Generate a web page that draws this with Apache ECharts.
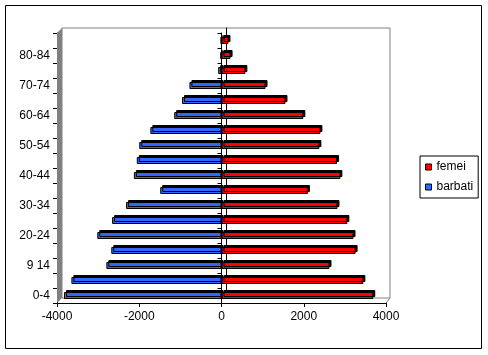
<!DOCTYPE html>
<html lang="ro">
<head>
    <meta charset="UTF-8">
    <title>Piramida varstelor</title>
    <script src="https://cdn.jsdelivr.net/npm/echarts@6/dist/echarts.min.js"></script>
    <style>
        body { margin: 0; background: #fff; }
        #main { width: 488px; height: 355px; }
    </style>
</head>
<body>
<div id="main"></div>
<script type="text/javascript">
    // grupe de varsta, de jos in sus
    var categories = ['0-4', '5-9', '9 14', '15-19', '20-24', '25-29', '30-34', '35-39', '40-44',
        '45-49', '50-54', '55-59', '60-64', '65-69', '70-74', '75-79', '80-84', '85+'];
    var femei = [3690, 3450, 2625, 3260, 3210, 3060, 2820, 2100, 2890,
        2810, 2380, 2405, 1990, 1555, 1070, 580, 220, 170];
    var barbati = [-3830, -3650, -2800, -2680, -3020, -2660, -2320, -1490, -2130,
        -2060, -2000, -1730, -1150, -960, -780, -80, -30, -20];
    var xMin = -4000, xMax = 4000, xStep = 2000;

    var font = 'Liberation Sans, Arial, sans-serif';
    var myChart = echarts.init(document.getElementById('main'));

    // umbra neagra in sus-dreapta, imita efectul 3D din Excel
    function barStyle(color) {
        return {
            color: color,
            borderColor: '#000',
            borderWidth: 1,
            shadowColor: '#000',
            shadowBlur: 0,
            shadowOffsetX: 2,
            shadowOffsetY: -2
        };
    }

    var option = {
        animation: false,
        backgroundColor: '#fff',
        grid: [
            // fata
            {left: 57, right: 102, top: 33, bottom: 52},
            // peretele din spate
            {left: 62, right: 98, top: 28, bottom: 57, show: true, borderColor: '#808080', borderWidth: 1},
            // axa din dreptul lui 0
            {left: 57, right: 102, top: 33, bottom: 52}
        ],
        legend: {
            orient: 'vertical',
            left: 420,
            top: 156,
            data: ['femei', 'barbati'],
            icon: 'rect',
            itemWidth: 6,
            itemHeight: 6,
            itemGap: 8,
            padding: [5, 5, 5, 5],
            borderColor: '#000',
            borderWidth: 1,
            itemStyle: {borderColor: '#000', borderWidth: 1, shadowOffsetX: 0, shadowOffsetY: 0},
            textStyle: {fontFamily: font, fontSize: 12, color: '#000'}
        },
        xAxis: [
            {
                gridIndex: 0, type: 'value', min: xMin, max: xMax, interval: xStep,
                axisLine: {show: true, onZero: false, lineStyle: {color: '#000'}},
                axisTick: {show: true, length: 4, lineStyle: {color: '#000'}},
                axisLabel: {
                    fontFamily: font, fontSize: 12, color: '#000', margin: 8,
                    formatter: function (v) { return String(v); }
                },
                splitLine: {show: false}
            },
            {gridIndex: 1, type: 'value', min: xMin, max: xMax, show: false},
            {gridIndex: 2, type: 'value', min: xMin, max: xMax, show: false}
        ],
        yAxis: [
            {
                gridIndex: 0, type: 'category', data: categories,
                axisLine: {show: true, onZero: false, lineStyle: {color: '#000'}},
                axisTick: {show: true, interval: 0, length: 4, lineStyle: {color: '#000'}},
                axisLabel: {interval: 1, fontFamily: font, fontSize: 12, color: '#000', margin: 7},
                splitLine: {show: false}
            },
            {
                gridIndex: 1, type: 'category', data: categories,
                axisLine: {show: true, onZero: true, lineStyle: {color: '#000'}},
                axisTick: {show: false},
                axisLabel: {show: false},
                splitLine: {show: false}
            },
            {
                gridIndex: 2, type: 'category', data: categories,
                axisLine: {show: true, onZero: true, lineStyle: {color: '#000'}},
                axisTick: {show: true, interval: 0, length: 4, lineStyle: {color: '#000'}},
                axisLabel: {show: false},
                splitLine: {show: false}
            }
        ],
        series: [
            {
                name: 'barbati',
                type: 'bar',
                stack: 'pop',
                barWidth: 7,
                data: barbati,
                itemStyle: barStyle('#3366FF')
            },
            {
                name: 'femei',
                type: 'bar',
                stack: 'pop',
                barWidth: 7,
                data: femei,
                itemStyle: barStyle('#FF0000')
            }
        ],
        graphic: [
            // chenarul exterior
            {type: 'rect', shape: {x: 5.5, y: 5.5, width: 476, height: 343},
                style: {fill: 'none', stroke: '#000', lineWidth: 1}, z: 0},
            // peretele lateral
            {type: 'polygon', shape: {points: [[57, 33], [62, 28], [62, 298], [57, 303]]},
                style: {fill: '#808080'}, z: 1},
            // muchia podelei
            {type: 'line', shape: {x1: 386, y1: 303, x2: 390, y2: 298},
                style: {stroke: '#808080', lineWidth: 1}, z: 1}
        ]
    };

    myChart.setOption(option);
</script>
</body>
</html>
